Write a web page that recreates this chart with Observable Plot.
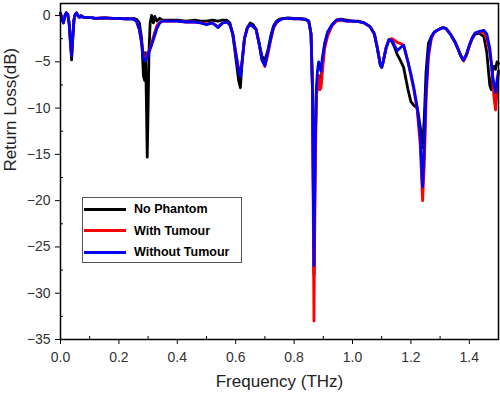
<!DOCTYPE html>
<html><head><meta charset="utf-8">
<script src="https://cdn.jsdelivr.net/npm/d3@7"></script>
<script src="https://cdn.jsdelivr.net/npm/@observablehq/plot@0.6"></script>
<style>
body{margin:0;background:#fff;}
#wrap{position:relative;width:500px;height:393px;font-family:Arial,"Liberation Sans",sans-serif;}
#legend{position:absolute;left:82px;top:197px;width:160px;height:66px;border:1px solid #555;box-sizing:border-box;background:#fff;}
.item{position:absolute;left:0;height:20px;display:flex;align-items:center;}
.sw{width:42px;height:3px;margin-left:1px;}
.lb{margin-left:8px;font-weight:bold;font-size:12.5px;color:#000;white-space:nowrap;}
</style></head>
<body><div id="wrap"><div id="legend"></div></div>
<script>
const seriesNames = ["No Phantom", "With Tumour", "Without Tumour"];
const seriesColors = ["#000000", "#ff0000", "#0000ff"];
const xTicks = [0, 0.2, 0.4, 0.6, 0.8, 1.0, 1.2, 1.4];
const xMinor = [0.1, 0.3, 0.5, 0.7, 0.9, 1.1, 1.3, 1.5];
const yTicks = [0, -5, -10, -15, -20, -25, -30, -35];
const yMinor = [-2.5, -7.5, -12.5, -17.5, -22.5, -27.5, -32.5];
const xLabel = "Frequency (THz)";
const yLabel = "Return Loss(dB)";

const freq = [0.000,0.005,0.010,0.015,0.020,0.025,0.030,0.034,0.038,0.042,0.046,0.050,0.055,0.060,0.065,0.070,0.080,0.100,0.120,0.150,0.180,0.200,0.220,0.240,0.250,0.260,0.270,0.278,0.284,0.288,0.291,0.294,0.297,0.300,0.303,0.307,0.312,0.318,0.323,0.330,0.340,0.350,0.380,0.400,0.430,0.460,0.480,0.500,0.520,0.540,0.555,0.570,0.580,0.590,0.600,0.610,0.616,0.622,0.630,0.640,0.650,0.660,0.670,0.680,0.690,0.700,0.710,0.720,0.730,0.740,0.750,0.765,0.780,0.800,0.820,0.840,0.850,0.858,0.863,0.868,0.872,0.876,0.880,0.884,0.888,0.892,0.897,0.905,0.915,0.930,0.945,0.960,0.980,1.000,1.020,1.040,1.060,1.075,1.085,1.095,1.100,1.105,1.115,1.125,1.135,1.145,1.153,1.163,1.175,1.190,1.200,1.210,1.222,1.232,1.240,1.246,1.252,1.260,1.270,1.280,1.295,1.310,1.320,1.335,1.350,1.360,1.370,1.380,1.390,1.400,1.410,1.420,1.435,1.450,1.460,1.470,1.475,1.480,1.485,1.490,1.495,1.500];

const noPhantom = [0.2,-0.3,-0.7,0.0,0.3,0.1,-1.0,-3.0,-4.8,-2.5,-0.5,0.1,0.2,0.0,-0.2,0.0,-0.2,-0.2,-0.3,-0.25,-0.3,-0.3,-0.35,-0.35,-0.3,-0.4,-0.8,-2.5,-6.5,-7.0,-4.0,-9.0,-15.3,-10.0,-4.0,-0.8,0.0,-0.8,-0.1,-0.6,-0.3,-0.5,-0.5,-0.5,-0.6,-0.5,-0.6,-0.6,-0.5,-0.6,-0.5,-0.5,-0.8,-2.0,-4.5,-7.0,-7.8,-5.0,-2.5,-1.3,-0.8,-1.0,-1.5,-3.0,-4.4,-4.8,-3.8,-2.2,-1.1,-0.6,-0.4,-0.3,-0.25,-0.3,-0.3,-0.4,-0.6,-2.0,-8.0,-28.0,-15.0,-8.5,-7.0,-6.5,-8.0,-7.5,-5.0,-3.0,-1.8,-1.0,-0.5,-0.4,-0.5,-0.6,-0.6,-0.8,-1.2,-2.0,-3.5,-5.3,-5.6,-5.0,-3.5,-2.6,-2.8,-3.5,-4.2,-4.8,-5.6,-8.0,-9.3,-9.7,-10.0,-12.0,-14.3,-11.0,-6.0,-3.0,-2.3,-1.8,-1.5,-1.3,-1.4,-2.0,-2.8,-3.5,-4.3,-4.9,-4.3,-3.3,-2.5,-2.0,-1.9,-2.3,-4.0,-7.5,-8.0,-6.0,-5.5,-5.8,-5.0,-5.2];

const withTumour = [0.2,-0.3,-0.8,0.0,0.3,0.1,-0.9,-2.8,-4.3,-2.3,-0.5,0.1,0.3,0.0,-0.2,-0.1,-0.2,-0.2,-0.3,-0.25,-0.3,-0.3,-0.35,-0.35,-0.4,-0.6,-1.5,-3.0,-4.3,-4.5,-4.5,-4.4,-4.2,-4.0,-3.8,-3.5,-3.0,-2.3,-1.8,-1.1,-0.7,-0.6,-0.6,-0.6,-0.7,-0.7,-0.8,-0.9,-0.8,-1.2,-0.8,-0.7,-1.0,-2.0,-4.0,-5.8,-6.0,-5.0,-2.5,-1.3,-1.0,-1.2,-1.5,-3.0,-4.8,-5.5,-4.2,-2.6,-1.3,-0.8,-0.5,-0.3,-0.3,-0.35,-0.35,-0.45,-0.6,-2.0,-8.0,-33.0,-18.0,-9.0,-7.5,-6.5,-8.0,-7.8,-6.0,-3.5,-2.2,-1.1,-0.6,-0.5,-0.6,-0.6,-0.65,-0.8,-1.2,-2.0,-3.5,-5.3,-5.6,-5.0,-3.5,-2.6,-2.5,-2.7,-2.9,-3.0,-3.2,-5.0,-6.5,-8.0,-10.3,-14.0,-20.0,-16.0,-9.0,-4.5,-2.5,-1.8,-1.5,-1.3,-1.4,-2.0,-2.8,-3.5,-4.3,-4.9,-4.3,-3.3,-2.4,-1.9,-1.8,-1.8,-2.5,-4.0,-5.0,-7.0,-9.0,-10.2,-8.0,-6.0];

const withoutTumour = [0.3,-0.4,-0.8,-0.1,0.3,0.1,-0.9,-2.8,-4.3,-2.3,-0.5,0.1,0.3,0.0,-0.2,-0.1,-0.2,-0.2,-0.3,-0.25,-0.3,-0.3,-0.35,-0.35,-0.4,-0.6,-1.5,-3.0,-4.5,-4.9,-4.9,-4.7,-4.5,-4.2,-4.0,-3.6,-3.2,-2.6,-2.1,-1.4,-0.8,-0.6,-0.6,-0.6,-0.7,-0.7,-0.8,-1.0,-0.8,-1.3,-0.8,-0.7,-1.0,-2.0,-4.0,-6.0,-6.6,-5.0,-2.5,-1.3,-1.0,-1.2,-1.5,-3.0,-4.8,-5.4,-4.0,-2.5,-1.2,-0.7,-0.5,-0.3,-0.3,-0.35,-0.35,-0.45,-0.6,-2.0,-8.0,-27.0,-15.0,-8.0,-6.0,-5.0,-5.5,-6.0,-4.5,-3.0,-1.8,-1.0,-0.5,-0.45,-0.6,-0.6,-0.65,-0.8,-1.2,-2.0,-3.5,-5.3,-5.6,-5.0,-3.5,-2.6,-2.7,-3.3,-3.8,-3.5,-3.2,-5.0,-6.3,-7.8,-10.0,-13.0,-18.5,-14.0,-8.0,-4.0,-2.3,-1.8,-1.5,-1.3,-1.4,-2.0,-2.8,-3.5,-4.3,-4.8,-4.2,-3.2,-2.4,-1.9,-1.7,-1.6,-2.0,-3.5,-5.0,-6.5,-7.5,-8.3,-7.0,-6.0];

const series = [noPhantom, withTumour, withoutTumour];
const font = "Arial, 'Liberation Sans', sans-serif";

const chart = Plot.plot({
  width: 500, height: 393,
  marginLeft: 60, marginRight: 2, marginTop: 3, marginBottom: 54,
  style: {fontFamily: font, background: "#fff", overflow: "visible"},
  x: {domain: [0, 1.5]},
  y: {domain: [-35, 1.3]},
  marks: [
    ...series.map((s, i) => Plot.line(freq, {x: freq, y: s, stroke: seriesColors[i], strokeWidth: 2.8, strokeLinejoin: "round"})),
    Plot.axisX(xTicks, {tickSize: 5, tickPadding: 8, tickFormat: d3.format(".1f"), fontSize: 14, fill: "#333", label: null}),
    Plot.axisX(xMinor, {tickSize: 3, dy: -3, tickFormat: () => "", label: null}),
    Plot.axisY(yTicks, {tickSize: 5, tickPadding: 5, fontSize: 14, fill: "#333", label: null}),
    Plot.axisY(yMinor, {tickSize: 3, dx: 3, tickFormat: () => "", label: null}),
    Plot.frame({stroke: "#000", strokeWidth: 1.5}),
    Plot.text([xLabel], {frameAnchor: "bottom", dy: 47, text: d => d, fontSize: 17, fill: "#222"}),
    Plot.text([yLabel], {frameAnchor: "left", dx: -50, rotate: -90, text: d => d, fontSize: 17, fill: "#222"})
  ]
});
const wrap = document.getElementById("wrap");
wrap.insertBefore(chart, wrap.firstChild);

const legend = document.getElementById("legend");
seriesNames.forEach((name, i) => {
  const it = document.createElement("div");
  it.className = "item";
  it.style.top = (1 + i * 21.5) + "px";
  const sw = document.createElement("div");
  sw.className = "sw"; sw.style.background = seriesColors[i];
  const lb = document.createElement("span");
  lb.className = "lb"; lb.textContent = name;
  it.appendChild(sw); it.appendChild(lb);
  legend.appendChild(it);
});
</script></body></html>
